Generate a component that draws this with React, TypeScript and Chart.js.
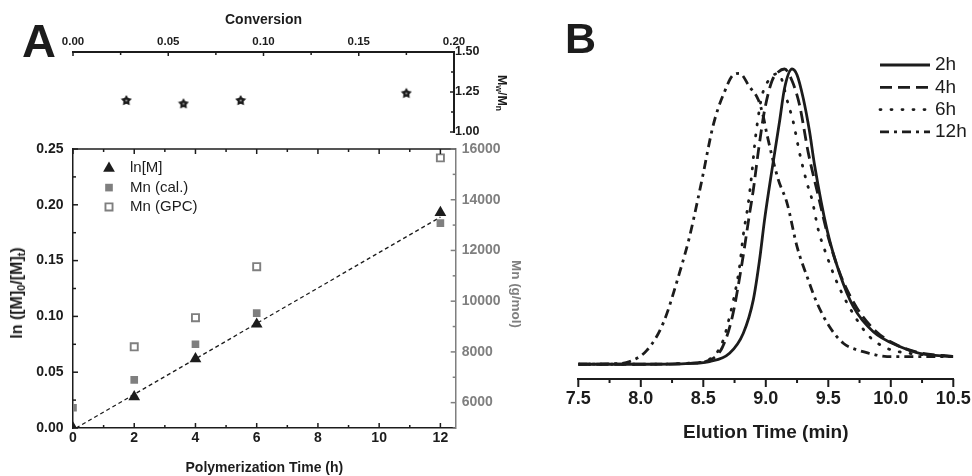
import React, { useEffect, useRef } from 'react';
import { Chart, registerables } from 'chart.js';

Chart.register(...registerables);

const FONT = "'Liberation Sans', Arial, Helvetica, sans-serif";
const INK = '#1c1c1c';
const GREY = '#7f7f7f';

// ---- Panel A (top): dispersity vs conversion
const conversionValues = [0.028, 0.058, 0.088, 0.175];
const dispersityValues = [1.2, 1.18, 1.2, 1.245];

// ---- Panel A (bottom): kinetics
const polymerizationHours = [0, 2, 4, 6, 12];
const lnRatioValues = [0, 0.028, 0.062, 0.093, 0.193];
const mnCalValues = [5800, 6900, 8300, 9530, 13080];
const mnGpcValues: (number | null)[] = [null, 8200, 9350, 11360, 15650];
const fitHours = [0.1, 12];
const fitLnValues = [0, 0.189];
const kineticsLabels = ['ln[M]', 'Mn (cal.)', 'Mn (GPC)'];

// ---- Panel B: GPC traces
const gpcLabels = ['2h', '4h', '6h', '12h'];
const time2h = [7.5, 7.8, 8.1, 8.39, 8.55, 8.71, 8.82, 8.9, 8.95, 8.99, 9.05, 9.11, 9.15, 9.21, 9.25, 9.3, 9.35, 9.39, 9.49, 9.59, 9.7, 9.86, 10.07, 10.23, 10.5];
const signal2h = [0, 0, 0, 0.003, 0.009, 0.037, 0.105, 0.218, 0.353, 0.489, 0.66, 0.822, 0.935, 1.0, 0.98, 0.9, 0.788, 0.675, 0.455, 0.308, 0.195, 0.11, 0.06, 0.037, 0.026];
const time4h = [7.5, 8.0, 8.4, 8.55, 8.65, 8.73, 8.81, 8.87, 8.9, 8.94, 8.99, 9.05, 9.1, 9.15, 9.21, 9.27, 9.34, 9.42, 9.5, 9.6, 9.73, 9.88, 10.05, 10.22, 10.5];
const signal4h = [0, 0, 0.003, 0.014, 0.055, 0.157, 0.343, 0.51, 0.59, 0.72, 0.86, 0.96, 0.99, 1.0, 0.96, 0.878, 0.716, 0.57, 0.43, 0.3, 0.19, 0.112, 0.065, 0.04, 0.026];
const time6h = [7.5, 8.0, 8.4, 8.58, 8.66, 8.71, 8.75, 8.79, 8.82, 8.86, 8.89, 8.91, 8.93, 8.97, 9.02, 9.1, 9.18, 9.22, 9.27, 9.33, 9.37, 9.42, 9.49, 9.55, 9.61, 9.73, 9.83, 9.97, 10.13, 10.5];
const signal6h = [0, 0, 0.004, 0.026, 0.082, 0.161, 0.235, 0.33, 0.438, 0.546, 0.653, 0.74, 0.81, 0.91, 0.96, 0.985, 0.88, 0.82, 0.716, 0.613, 0.557, 0.455, 0.365, 0.297, 0.24, 0.15, 0.093, 0.054, 0.038, 0.026];
const time12h = [7.5, 7.8, 7.91, 8.05, 8.18, 8.31, 8.39, 8.45, 8.5, 8.55, 8.58, 8.62, 8.66, 8.74, 8.79, 8.87, 8.94, 8.98, 9.01, 9.1, 9.17, 9.25, 9.33, 9.41, 9.51, 9.62, 9.72, 9.83, 9.97, 10.5];
const signal12h = [0, 0.002, 0.009, 0.048, 0.14, 0.31, 0.432, 0.546, 0.647, 0.754, 0.811, 0.868, 0.913, 0.98, 0.985, 0.94, 0.896, 0.839, 0.777, 0.625, 0.546, 0.398, 0.297, 0.207, 0.127, 0.071, 0.05, 0.037, 0.026, 0.026];

const isMult = (v: number, step: number) => Math.abs(v / step - Math.round(v / step)) < 1e-6;
const fixW = (w: number) => (s: any) => { s.width = w; s.paddingTop = 0; s.paddingBottom = 0; s.paddingLeft = 0; s.paddingRight = 0; };
const fixH = (h: number) => (s: any) => { s.height = h; s.paddingTop = 0; s.paddingBottom = 0; s.paddingLeft = 0; s.paddingRight = 0; };
const bold = (size: number) => ({ family: FONT, size, weight: 'bold' as const });

const axisTicksPlugin = {
  id: 'axisTicks',
  afterDraw(chart: any, _a: any, opts: any) {
    const { ctx, chartArea: ca } = chart;
    ctx.save();
    ctx.setLineDash([]);
    if (opts.frameTop) {
      ctx.strokeStyle = opts.frameTop.color;
      ctx.lineWidth = opts.frameTop.width;
      ctx.beginPath();
      ctx.moveTo(ca.left, ca.top);
      ctx.lineTo(ca.right, ca.top);
      ctx.stroke();
    }
    for (const it of opts.items || []) {
      const sc = chart.scales[it.scale];
      ctx.strokeStyle = it.color;
      ctx.lineWidth = it.width;
      const sign = it.outward ? -1 : 1;
      for (const t of sc.ticks) {
        const lab = t.label;
        const major = Array.isArray(lab) ? lab.length > 0 : lab !== '' && lab != null;
        const len = (major ? it.major : it.minor) * sign;
        const p = sc.getPixelForValue(t.value);
        ctx.beginPath();
        if (it.edge === 'bottom') { ctx.moveTo(p, ca.bottom); ctx.lineTo(p, ca.bottom - len); }
        else if (it.edge === 'top') { ctx.moveTo(p, ca.top); ctx.lineTo(p, ca.top + len); }
        else if (it.edge === 'left') { ctx.moveTo(ca.left, p); ctx.lineTo(ca.left + len, p); }
        else { ctx.moveTo(ca.right, p); ctx.lineTo(ca.right - len, p); }
        ctx.stroke();
      }
    }
    ctx.restore();
  },
};

function drawMarker(ctx: CanvasRenderingContext2D, style: string, x: number, y: number, r: number, fill: string, stroke: string, bw: number) {
  ctx.beginPath();
  if (style === 'triangle') {
    ctx.moveTo(x, y - r);
    ctx.lineTo(x + r * 0.866, y + r * 0.5);
    ctx.lineTo(x - r * 0.866, y + r * 0.5);
    ctx.closePath();
  } else {
    const s = r * Math.SQRT1_2;
    ctx.rect(x - s, y - s, 2 * s, 2 * s);
  }
  ctx.fillStyle = fill;
  ctx.fill();
  if (bw > 0) {
    ctx.strokeStyle = stroke;
    ctx.lineWidth = bw;
    ctx.stroke();
  }
}

const markerLegendPlugin = {
  id: 'markerLegend',
  afterDraw(chart: any, _a: any, opts: any) {
    const { ctx } = chart;
    ctx.save();
    opts.rows.forEach((dsIndex: number, i: number) => {
      const ds = chart.data.datasets[dsIndex];
      const y = opts.y + i * opts.step;
      drawMarker(ctx, ds.pointStyle, opts.x, y, ds.pointRadius, ds.backgroundColor, ds.borderColor, ds.borderWidth || 0);
      ctx.font = opts.font;
      ctx.fillStyle = opts.color;
      ctx.textBaseline = 'middle';
      ctx.textAlign = 'left';
      ctx.fillText(ds.label, opts.textX, y);
    });
    ctx.restore();
  },
};

const lineLegendPlugin = {
  id: 'lineLegend',
  afterDraw(chart: any, _a: any, opts: any) {
    const { ctx } = chart;
    ctx.save();
    chart.data.datasets.forEach((ds: any, i: number) => {
      const y = opts.y + i * opts.step;
      ctx.strokeStyle = ds.borderColor;
      ctx.lineWidth = ds.borderWidth;
      ctx.lineCap = ds.borderCapStyle || 'butt';
      ctx.setLineDash(ds.borderDash || []);
      ctx.beginPath();
      ctx.moveTo(opts.x0, y);
      ctx.lineTo(opts.x1, y);
      ctx.stroke();
      ctx.setLineDash([]);
      ctx.font = opts.font;
      ctx.fillStyle = opts.color;
      ctx.textBaseline = 'middle';
      ctx.textAlign = 'left';
      ctx.fillText(ds.label, opts.textX, y);
    });
    ctx.restore();
  },
};

function makeStar(size: number, color: string) {
  const c = document.createElement('canvas');
  c.width = size;
  c.height = size;
  const g = c.getContext('2d')!;
  const cx = size / 2, cy = size / 2 + 0.6, R = size / 2 - 0.3, r = R * 0.55;
  g.beginPath();
  for (let i = 0; i < 10; i++) {
    const ang = -Math.PI / 2 + (i * Math.PI) / 5;
    const rad = i % 2 === 0 ? R : r;
    g.lineTo(cx + rad * Math.cos(ang), cy + rad * Math.sin(ang));
  }
  g.closePath();
  g.fillStyle = color;
  g.fill();
  g.fillStyle = '#8a8a8a';
  g.beginPath();
  g.arc(cx, cy, 1.1, 0, Math.PI * 2);
  g.fill();
  return c;
}

const baseOpts = {
  responsive: false,
  animation: false as const,
  events: [] as any[],
};

function makeTop(canvas: HTMLCanvasElement) {
  const star = makeStar(12, INK);
  return new Chart(canvas, {
    type: 'scatter',
    data: {
      datasets: [{
        label: 'Mw/Mn',
        data: conversionValues.map((c, i) => ({ x: c, y: dispersityValues[i] })),
        pointStyle: star as any,
        pointRadius: 6,
        backgroundColor: INK,
        borderColor: INK,
      }],
    },
    options: {
      ...baseOpts,
      layout: { padding: { left: 73, right: 478, top: 0, bottom: 344 } },
      plugins: {
        legend: { display: false },
        tooltip: { enabled: false },
        axisTicks: {
          items: [
            { scale: 'x', edge: 'top', major: 4, minor: 3, color: INK, width: 1.5 },
            { scale: 'y', edge: 'right', major: 4, minor: 3, color: INK, width: 1.5 },
          ],
        },
      } as any,
      scales: {
        x: {
          type: 'linear', position: 'top', min: 0, max: 0.2,
          afterFit: fixH(52),
          grid: { display: false, drawTicks: false },
          border: { display: true, color: INK, width: 2 },
          ticks: { stepSize: 0.025, autoSkip: false, maxRotation: 0, padding: 3, color: INK, font: bold(11.5), callback: (v: any) => (isMult(v, 0.05) ? Number(v).toFixed(2) : '') },
          title: { display: true, text: 'Conversion', color: INK, font: bold(14), padding: { top: 11.6, bottom: 0 } },
        },
        y: {
          type: 'linear', position: 'right', min: 1, max: 1.5,
          afterFit: fixW(40),
          grid: { display: false, drawTicks: false },
          border: { display: true, color: INK, width: 2 },
          ticks: { stepSize: 0.125, autoSkip: false, padding: 1, color: INK, font: bold(12.5), callback: (v: any) => (isMult(v, 0.25) ? Number(v).toFixed(2) : '') },
        },
      } as any,
    },
    plugins: [axisTicksPlugin],
  });
}

function makeKinetics(canvas: HTMLCanvasElement) {
  const pts = (ys: (number | null)[]) =>
    polymerizationHours.map((t, i) => ({ x: t, y: ys[i] })).filter((p) => p.y !== null) as any[];
  return new Chart(canvas, {
    type: 'scatter',
    data: {
      datasets: [
        { label: kineticsLabels[0], data: pts(lnRatioValues), yAxisID: 'y', pointStyle: 'triangle', pointRadius: 6.8, backgroundColor: INK, borderColor: INK, borderWidth: 0 },
        { label: kineticsLabels[1], data: pts(mnCalValues), yAxisID: 'y2', pointStyle: 'rect', pointRadius: 5.4, backgroundColor: GREY, borderColor: GREY, borderWidth: 0 },
        { label: kineticsLabels[2], data: pts(mnGpcValues), yAxisID: 'y2', pointStyle: 'rect', pointRadius: 5.0, backgroundColor: '#ffffff', borderColor: GREY, borderWidth: 1.9 },
        { label: 'fit', data: fitHours.map((t, i) => ({ x: t, y: fitLnValues[i] })), yAxisID: 'y', showLine: true, pointRadius: 0, borderColor: INK, borderWidth: 1.3, borderDash: [4, 3] },
      ] as any,
    },
    options: {
      ...baseOpts,
      layout: { padding: { left: 23, right: 466.3, top: 149, bottom: 0 } },
      plugins: {
        legend: { display: false },
        tooltip: { enabled: false },
        axisTicks: {
          frameTop: { color: INK, width: 1.5 },
          items: [
            { scale: 'x', edge: 'bottom', major: 5, minor: 3, color: INK, width: 1.5 },
            { scale: 'x', edge: 'top', major: 5, minor: 3, color: INK, width: 1.5 },
            { scale: 'y', edge: 'left', major: 5, minor: 3, color: INK, width: 1.5 },
            { scale: 'y2', edge: 'right', major: 5, minor: 3, color: GREY, width: 1.5 },
          ],
        },
        markerLegend: { rows: [0, 1, 2], x: 109, textX: 130, y: 168.3, step: 19.3, font: `15px ${FONT}`, color: INK },
      } as any,
      scales: {
        x: {
          type: 'linear', position: 'bottom', min: 0, max: 12.5,
          afterFit: fixH(48),
          grid: { display: false, drawTicks: false },
          border: { display: true, color: INK, width: 1.5 },
          ticks: { stepSize: 1, includeBounds: false, autoSkip: false, maxRotation: 0, padding: 2, color: INK, font: bold(14), callback: (v: any) => (isMult(v, 2) ? String(Math.round(v)) : '') },
          title: { display: true, text: 'Polymerization Time (h)', color: INK, font: bold(14), padding: { top: 0, bottom: -1 } },
        },
        y: {
          type: 'linear', position: 'left', min: 0, max: 0.25,
          afterFit: fixW(50),
          grid: { display: false, drawTicks: false },
          border: { display: true, color: INK, width: 1.5 },
          ticks: { stepSize: 0.025, autoSkip: false, padding: 9.5, color: INK, font: bold(14), callback: (v: any) => (isMult(v, 0.05) ? Number(v).toFixed(2) : '') },
        },
        y2: {
          type: 'linear', position: 'right', min: 5000, max: 16000,
          afterFit: fixW(50),
          grid: { display: false, drawTicks: false },
          border: { display: true, color: GREY, width: 1.5 },
          ticks: { stepSize: 1000, autoSkip: false, padding: 6, color: GREY, font: bold(14), callback: (v: any) => (v >= 6000 && isMult(v, 2000) ? String(Math.round(v)) : '') },
        },
      } as any,
    },
    plugins: [axisTicksPlugin, markerLegendPlugin],
  });
}

function makeGpc(canvas: HTMLCanvasElement) {
  const series = [
    { t: time2h, s: signal2h, dash: [] as number[], cap: 'butt' },
    { t: time4h, s: signal4h, dash: [12, 6], cap: 'butt' },
    { t: time6h, s: signal6h, dash: [1, 10], cap: 'round' },
    { t: time12h, s: signal12h, dash: [9, 5, 3, 5], cap: 'butt' },
  ];
  return new Chart(canvas, {
    type: 'line',
    data: {
      datasets: series.map((d, k) => ({
        label: gpcLabels[k],
        data: d.t.map((x, i) => ({ x, y: d.s[i] })),
        borderColor: INK,
        borderWidth: 2.8,
        borderDash: d.dash,
        borderCapStyle: d.cap,
        pointRadius: 0,
        fill: false,
        cubicInterpolationMode: 'monotone',
      })) as any,
    },
    options: {
      ...baseOpts,
      layout: { padding: { left: 578.3, right: 18.7, top: 54.25, bottom: 0 } },
      plugins: {
        legend: { display: false },
        tooltip: { enabled: false },
        axisTicks: {
          items: [{ scale: 'x', edge: 'bottom', outward: true, major: 8, minor: 4, color: INK, width: 2 }],
        },
        lineLegend: { x0: 880, x1: 930, textX: 935, y: 65, step: 22.3, font: `19px ${FONT}`, color: INK },
      } as any,
      scales: {
        x: {
          type: 'linear', position: 'bottom', min: 7.5, max: 10.5,
          afterFit: fixH(97),
          grid: { display: false, drawTicks: false },
          border: { display: true, color: INK, width: 2 },
          ticks: { stepSize: 0.25, autoSkip: false, maxRotation: 0, padding: 9.2, color: INK, font: bold(18), callback: (v: any) => (isMult(v, 0.5) ? Number(v).toFixed(1) : '') },
          title: { display: true, text: 'Elution Time (min)', color: INK, font: bold(19), padding: { top: 0, bottom: 31.6 } },
        },
        y: { type: 'linear', display: false, min: -0.05, max: 1.05 },
      } as any,
    },
    plugins: [axisTicksPlugin, lineLegendPlugin],
  });
}

function ChartCanvas({ make }: { make: (c: HTMLCanvasElement) => Chart }) {
  const ref = useRef<HTMLCanvasElement>(null);
  useEffect(() => {
    const ch = make(ref.current!);
    return () => ch.destroy();
  }, [make]);
  return <canvas ref={ref} width={972} height={476} style={{ position: 'absolute', left: 0, top: 0, width: 972, height: 476 }} />;
}

const abs = (x: number, y: number, extra: React.CSSProperties = {}): React.CSSProperties => ({
  position: 'absolute', left: x, top: y, whiteSpace: 'nowrap', lineHeight: 1, fontFamily: FONT, color: INK, ...extra,
});
const subStyle: React.CSSProperties = { fontSize: '0.68em', verticalAlign: '-0.3em', lineHeight: 0 };

export default function App() {
  return (
    <div style={{ position: 'fixed', left: 0, top: 0, width: 972, height: 476, background: '#ffffff', overflow: 'hidden' }}>
      <ChartCanvas make={makeTop} />
      <ChartCanvas make={makeKinetics} />
      <ChartCanvas make={makeGpc} />
      <div style={abs(22, 17, { fontSize: 47, fontWeight: 'bold' })}>A</div>
      <div style={abs(565, 16.6, { fontSize: 43, fontWeight: 'bold' })}>B</div>
      <div style={abs(17, 293, { fontSize: 16, fontWeight: 'bold', transform: 'translate(-50%, -50%) rotate(-90deg)' })}>
        ln ([M]<span style={subStyle}>0</span>/[M]<span style={subStyle}>t</span>)
      </div>
      <div style={abs(516, 294, { fontSize: 13.5, fontWeight: 'bold', color: GREY, transform: 'translate(-50%, -50%) rotate(90deg)' })}>
        Mn (g/mol)
      </div>
      <div style={abs(502, 92.5, { fontSize: 12.5, fontWeight: 'bold', transform: 'translate(-50%, -50%) rotate(90deg)' })}>
        M<span style={subStyle}>w</span>/M<span style={subStyle}>n</span>
      </div>
    </div>
  );
}
